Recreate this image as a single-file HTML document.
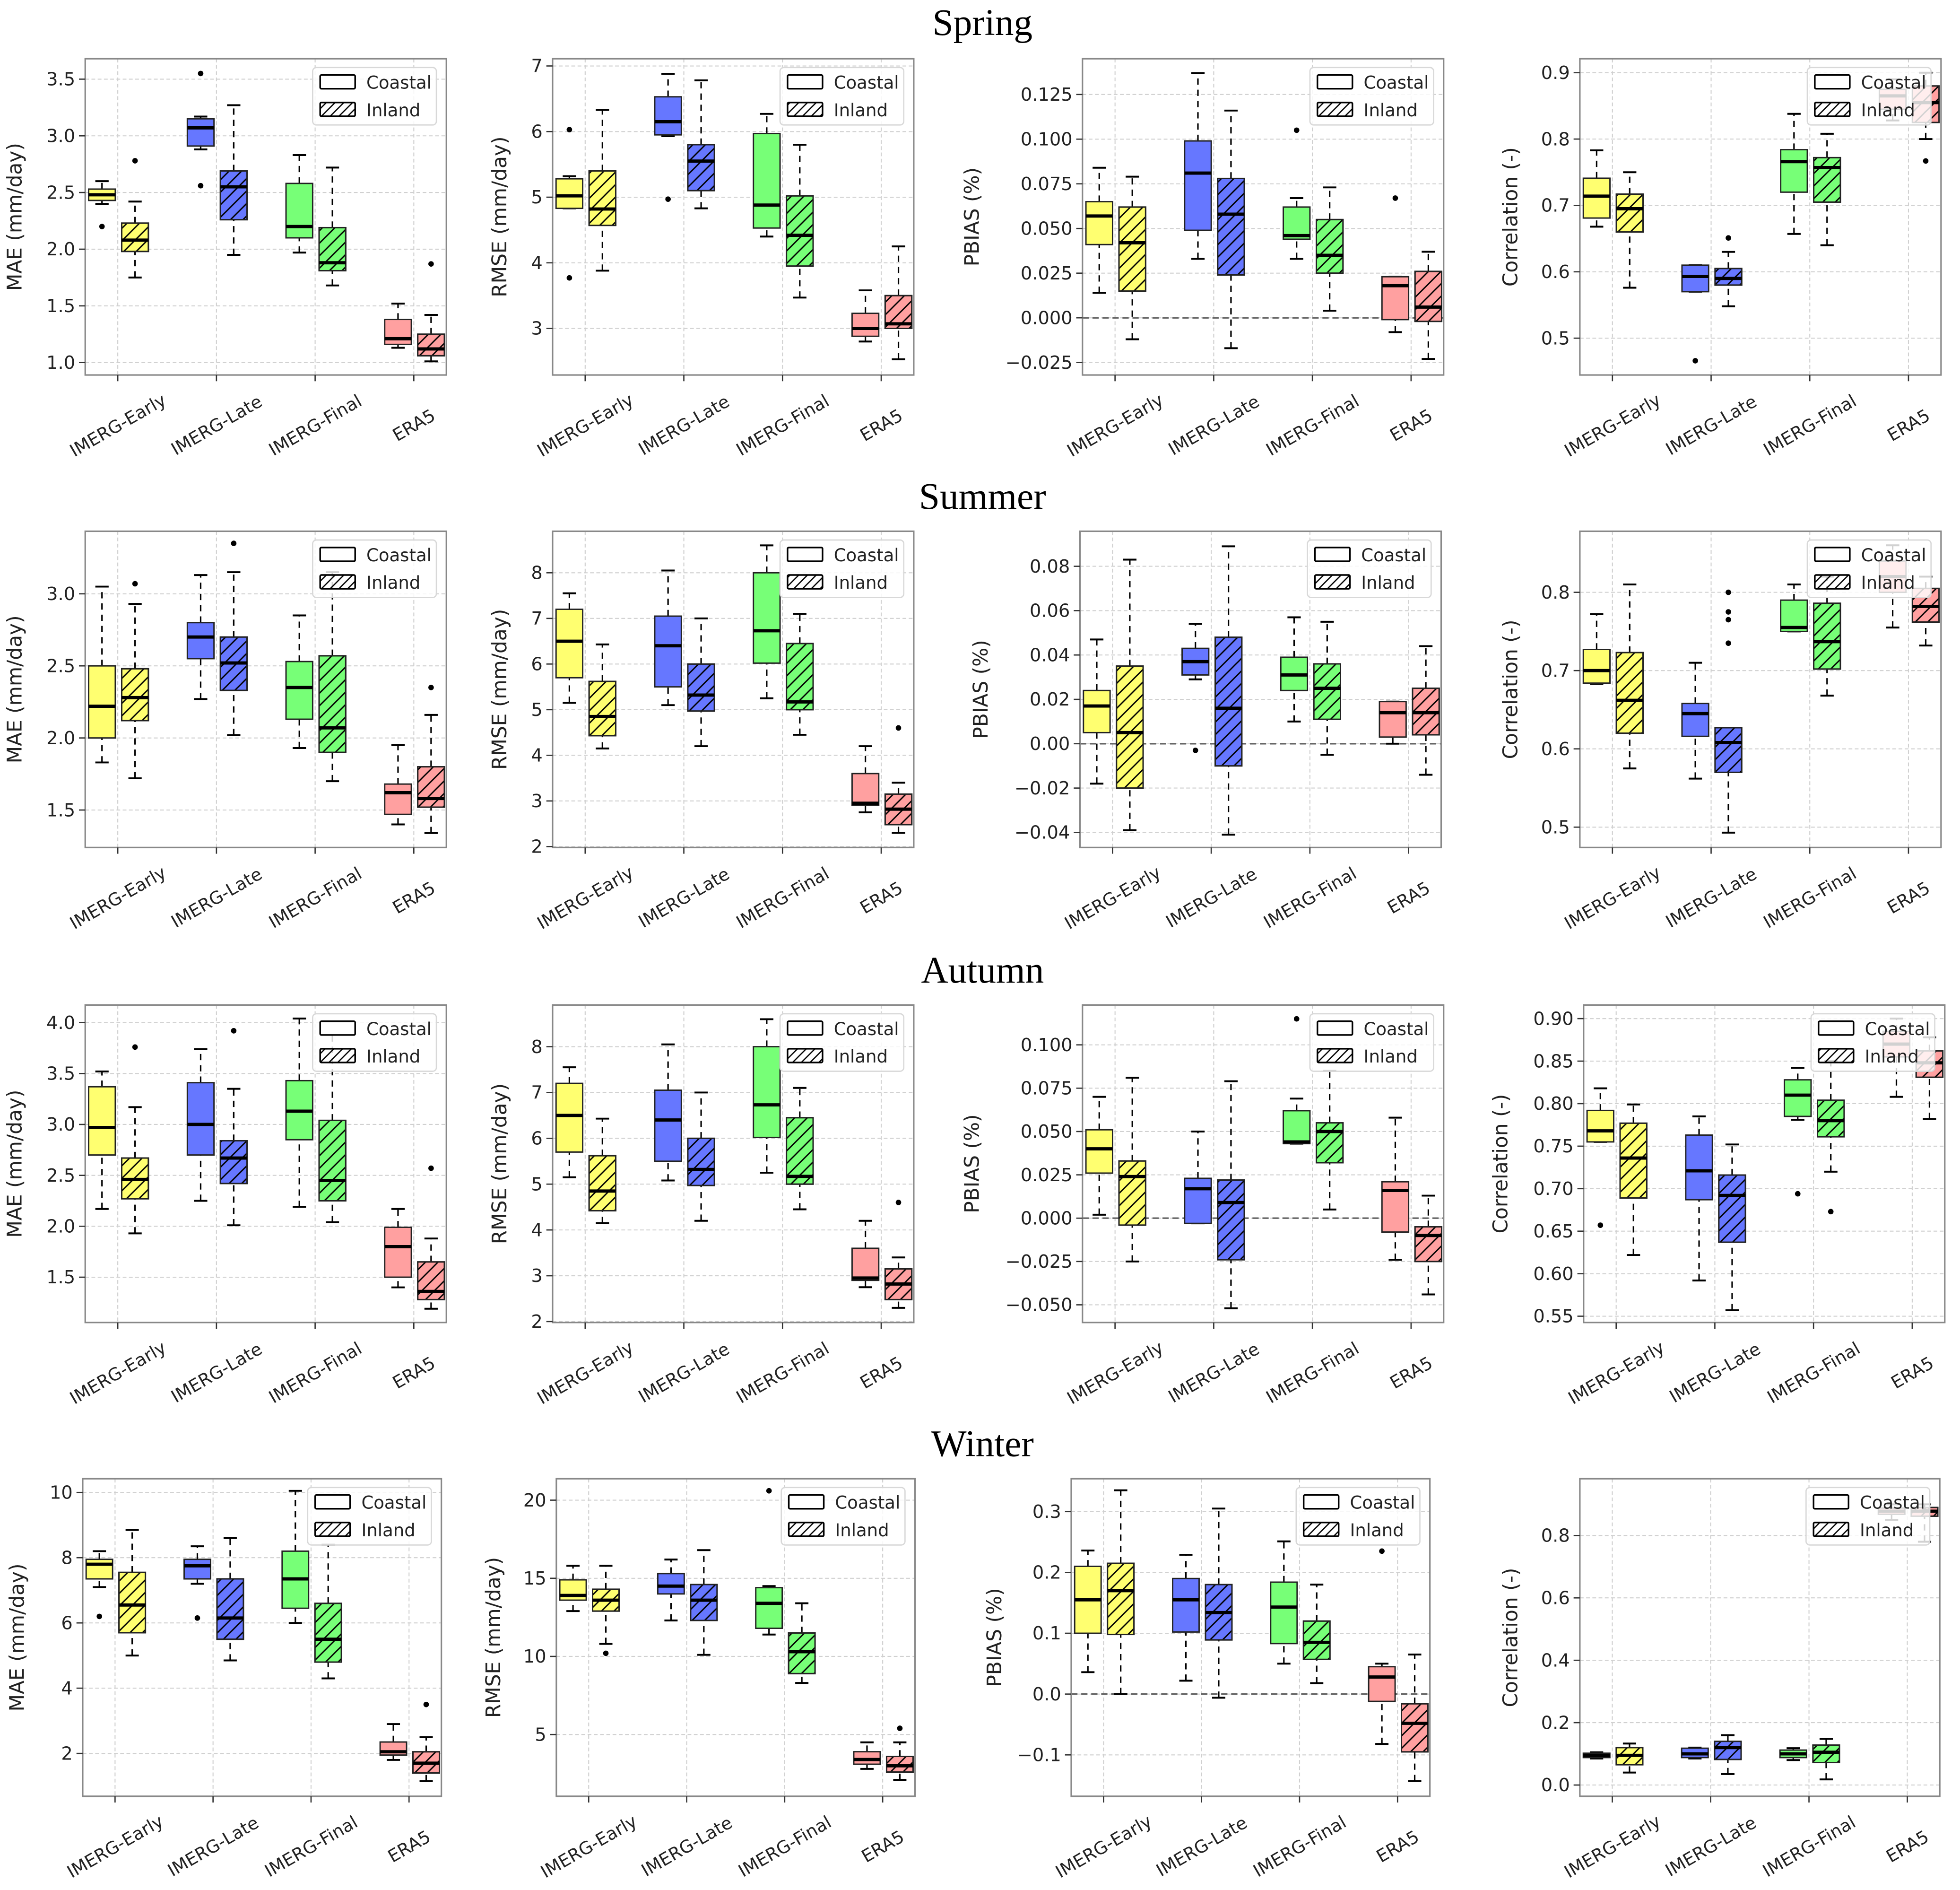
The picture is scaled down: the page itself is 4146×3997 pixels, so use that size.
<!DOCTYPE html>
<html><head><meta charset="utf-8"><title>Seasonal boxplots</title>
<style>html,body{margin:0;padding:0;background:#fff;}svg{display:block;}</style></head>
<body>
<svg id="fig" xmlns="http://www.w3.org/2000/svg" width="4146" height="3997" viewBox="0 0 1568 1512">
<defs>
<pattern id="hatch" patternUnits="userSpaceOnUse" width="10" height="10">
<path d="M-2,2 L2,-2 M0,10 L10,0 M8,12 L12,8" stroke="#000" stroke-width="1.1"/>
</pattern>
<pattern id="hatchL" patternUnits="userSpaceOnUse" width="7" height="7">
<path d="M-2,2 L2,-2 M0,7 L7,0 M5,9 L9,5" stroke="#000" stroke-width="1"/>
</pattern>
</defs>
</svg>
<script>
// ---------- data ----------
const categories = ["IMERG-Early","IMERG-Late","IMERG-Final","ERA5"];
const seasons = ["Spring","Summer","Autumn","Winter"];
const metricLabels = ["MAE (mm/day)","RMSE (mm/day)","PBIAS (%)","Correlation (-)"];
// each box: [whisker low, q1, median, q3, whisker high]
const springMaeCoastal = [[2.40,2.43,2.48,2.53,2.60],[2.88,2.91,3.07,3.15,3.17],[1.97,2.10,2.20,2.58,2.83],[1.13,1.16,1.21,1.38,1.52]];
const springMaeInland  = [[1.75,1.98,2.08,2.23,2.42],[1.95,2.26,2.55,2.69,3.27],[1.68,1.81,1.88,2.19,2.72],[1.01,1.06,1.12,1.25,1.42]];
const springMaeCoastalOut = [[2.20],[3.55,2.56],[],[]];
const springMaeInlandOut  = [[2.78],[],[],[1.87]];
const springRmseCoastal = [[4.83,4.83,5.02,5.28,5.32],[5.93,5.95,6.15,6.53,6.88],[4.40,4.53,4.88,5.97,6.27],[2.80,2.88,3.00,3.23,3.58]];
const springRmseInland  = [[3.88,4.57,4.82,5.40,6.33],[4.83,5.10,5.55,5.80,6.78],[3.47,3.95,4.42,5.02,5.80],[2.53,3.00,3.07,3.50,4.25]];
const springRmseCoastalOut = [[6.03,3.77],[4.97],[],[]];
const springRmseInlandOut  = [[],[],[],[]];
const springPbiasCoastal = [[0.014,0.041,0.057,0.065,0.084],[0.033,0.049,0.081,0.099,0.137],[0.033,0.044,0.046,0.062,0.067],[-0.008,-0.001,0.018,0.023,0.023]];
const springPbiasInland  = [[-0.012,0.015,0.042,0.062,0.079],[-0.017,0.024,0.058,0.078,0.116],[0.004,0.025,0.035,0.055,0.073],[-0.023,-0.002,0.006,0.026,0.037]];
const springPbiasCoastalOut = [[],[],[0.105],[0.067]];
const springPbiasInlandOut  = [[],[],[],[]];
const springCorrCoastal = [[0.668,0.681,0.714,0.741,0.783],[0.570,0.570,0.593,0.610,0.610],[0.657,0.720,0.766,0.784,0.838],[0.828,0.845,0.865,0.875,0.890]];
const springCorrInland  = [[0.576,0.660,0.695,0.717,0.750],[0.548,0.580,0.590,0.605,0.630],[0.640,0.705,0.757,0.772,0.808],[0.800,0.825,0.855,0.880,0.900]];
const springCorrCoastalOut = [[],[0.466],[],[]];
const springCorrInlandOut  = [[],[0.651],[],[0.767]];

const summerMaeCoastal = [[1.83,2.00,2.22,2.50,3.05],[2.27,2.55,2.70,2.80,3.13],[1.93,2.13,2.35,2.53,2.85],[1.40,1.47,1.62,1.68,1.95]];
const summerMaeInland  = [[1.72,2.12,2.28,2.48,2.93],[2.02,2.33,2.52,2.70,3.15],[1.70,1.90,2.07,2.57,3.15],[1.34,1.52,1.58,1.80,2.16]];
const summerMaeCoastalOut = [[],[],[],[]];
const summerMaeInlandOut  = [[3.07],[3.35],[],[2.35]];
const summerRmseCoastal = [[5.15,5.70,6.50,7.20,7.55],[5.10,5.50,6.40,7.05,8.05],[5.25,6.02,6.73,8.00,8.60],[2.75,2.90,2.95,3.60,4.20]];
const summerRmseInland  = [[4.15,4.43,4.85,5.62,6.43],[4.20,4.97,5.32,6.00,7.00],[4.45,5.00,5.17,6.45,7.10],[2.30,2.48,2.82,3.15,3.40]];
const summerRmseCoastalOut = [[],[],[],[]];
const summerRmseInlandOut  = [[],[],[],[4.60]];
const summerPbiasCoastal = [[-0.018,0.005,0.017,0.024,0.047],[0.029,0.031,0.037,0.043,0.054],[0.010,0.024,0.031,0.039,0.057],[0.000,0.003,0.014,0.019,0.019]];
const summerPbiasInland  = [[-0.039,-0.020,0.005,0.035,0.083],[-0.041,-0.010,0.016,0.048,0.089],[-0.005,0.011,0.025,0.036,0.055],[-0.014,0.004,0.014,0.025,0.044]];
const summerPbiasCoastalOut = [[],[-0.003],[],[]];
const summerPbiasInlandOut  = [[],[],[],[]];
const summerCorrCoastal = [[0.683,0.684,0.700,0.727,0.772],[0.562,0.616,0.645,0.658,0.710],[0.750,0.750,0.755,0.790,0.810],[0.755,0.800,0.820,0.840,0.860]];
const summerCorrInland  = [[0.575,0.620,0.662,0.723,0.810],[0.493,0.570,0.608,0.627,0.627],[0.668,0.702,0.737,0.786,0.820],[0.732,0.762,0.782,0.805,0.820]];
const summerCorrCoastalOut = [[],[],[],[]];
const summerCorrInlandOut  = [[],[0.735,0.765,0.775,0.800],[],[]];

const autumnMaeCoastal = [[2.17,2.70,2.97,3.37,3.52],[2.25,2.70,3.00,3.41,3.74],[2.19,2.85,3.13,3.43,4.04],[1.40,1.50,1.80,1.99,2.17]];
const autumnMaeInland  = [[1.93,2.27,2.46,2.67,3.17],[2.01,2.42,2.67,2.84,3.35],[2.04,2.25,2.45,3.04,3.95],[1.19,1.28,1.36,1.65,1.88]];
const autumnMaeCoastalOut = [[],[],[],[]];
const autumnMaeInlandOut  = [[3.76],[3.92],[],[2.57]];
const autumnRmseCoastal = [[5.15,5.70,6.50,7.20,7.55],[5.08,5.50,6.40,7.05,8.05],[5.25,6.02,6.73,8.00,8.60],[2.75,2.90,2.95,3.60,4.20]];
const autumnRmseInland  = [[4.15,4.42,4.85,5.62,6.43],[4.20,4.97,5.32,6.00,7.00],[4.45,5.00,5.17,6.45,7.10],[2.30,2.48,2.82,3.15,3.40]];
const autumnRmseCoastalOut = [[],[],[],[]];
const autumnRmseInlandOut  = [[],[],[],[4.60]];
const autumnPbiasCoastal = [[0.002,0.026,0.040,0.051,0.070],[-0.003,-0.003,0.017,0.023,0.050],[0.043,0.043,0.044,0.062,0.069],[-0.024,-0.008,0.016,0.021,0.058]];
const autumnPbiasInland  = [[-0.025,-0.004,0.024,0.033,0.081],[-0.052,-0.024,0.009,0.022,0.079],[0.005,0.032,0.050,0.055,0.085],[-0.044,-0.025,-0.010,-0.005,0.013]];
const autumnPbiasCoastalOut = [[],[],[0.115],[]];
const autumnPbiasInlandOut  = [[],[],[],[]];
const autumnCorrCoastal = [[0.755,0.755,0.768,0.792,0.818],[0.592,0.687,0.721,0.763,0.785],[0.781,0.785,0.810,0.828,0.842],[0.808,0.855,0.870,0.885,0.900]];
const autumnCorrInland  = [[0.622,0.689,0.736,0.777,0.799],[0.557,0.637,0.692,0.716,0.752],[0.720,0.761,0.780,0.804,0.850],[0.782,0.831,0.848,0.862,0.878]];
const autumnCorrCoastalOut = [[0.657],[],[0.694],[]];
const autumnCorrInlandOut  = [[],[],[0.673],[]];

const winterMaeCoastal = [[7.10,7.35,7.80,7.95,8.20],[7.20,7.35,7.75,7.95,8.35],[6.00,6.45,7.35,8.20,10.05],[1.80,1.95,2.05,2.35,2.90]];
const winterMaeInland  = [[5.00,5.70,6.55,7.55,8.85],[4.85,5.50,6.15,7.35,8.60],[4.30,4.80,5.50,6.60,8.40],[1.15,1.40,1.70,2.05,2.50]];
const winterMaeCoastalOut = [[6.20],[6.15],[],[]];
const winterMaeInlandOut  = [[],[],[],[3.50]];
const winterRmseCoastal = [[12.9,13.6,13.9,14.9,15.8],[12.3,14.0,14.5,15.3,16.2],[11.4,11.8,13.4,14.4,14.5],[2.8,3.1,3.4,3.9,4.5]];
const winterRmseInland  = [[10.8,12.9,13.6,14.3,15.8],[10.1,12.3,13.6,14.6,16.8],[8.3,8.9,10.3,11.5,13.4],[2.1,2.6,3.0,3.6,4.5]];
const winterRmseCoastalOut = [[],[],[20.6],[]];
const winterRmseInlandOut  = [[10.2],[],[],[5.4]];
const winterPbiasCoastal = [[0.036,0.100,0.155,0.210,0.236],[0.022,0.102,0.155,0.190,0.229],[0.050,0.083,0.143,0.184,0.251],[-0.082,-0.012,0.028,0.045,0.050]];
const winterPbiasInland  = [[0.000,0.098,0.170,0.215,0.335],[-0.006,0.089,0.134,0.180,0.305],[0.018,0.057,0.085,0.120,0.180],[-0.143,-0.095,-0.048,-0.016,0.065]];
const winterPbiasCoastalOut = [[],[],[],[0.235]];
const winterPbiasInlandOut  = [[],[],[],[]];
const winterCorrCoastal = [[0.085,0.088,0.095,0.102,0.105],[0.085,0.088,0.100,0.118,0.120],[0.080,0.088,0.100,0.112,0.118],[0.850,0.868,0.878,0.888,0.900]];
const winterCorrInland  = [[0.040,0.065,0.095,0.120,0.133],[0.035,0.082,0.120,0.140,0.160],[0.018,0.072,0.105,0.128,0.148],[0.780,0.862,0.878,0.890,0.900]];
const winterCorrCoastalOut = [[],[],[],[]];
const winterCorrInlandOut  = [[],[],[],[0.880]];

// tick label arrays
const ticksMae1=[1.0,1.5,2.0,2.5,3.0,3.5], ticksRmse1=[3,4,5,6,7], ticksPbias1=[-0.025,0,0.025,0.05,0.075,0.1,0.125], ticksCorr1=[0.5,0.6,0.7,0.8,0.9];
const ticksMae2=[1.5,2.0,2.5,3.0], ticksRmse2=[2,3,4,5,6,7,8], ticksPbias2=[-0.04,-0.02,0,0.02,0.04,0.06,0.08], ticksCorr2=[0.5,0.6,0.7,0.8];
const ticksMae3=[1.5,2.0,2.5,3.0,3.5,4.0], ticksRmse3=[2,3,4,5,6,7,8], ticksPbias3=[-0.05,-0.025,0,0.025,0.05,0.075,0.1], ticksCorr3=[0.55,0.6,0.65,0.7,0.75,0.8,0.85,0.9];
const ticksMae4=[2,4,6,8,10], ticksRmse4=[5,10,15,20], ticksPbias4=[-0.1,0,0.1,0.2,0.3], ticksCorr4=[0,0.2,0.4,0.6,0.8];

// ---------- layout (not data) ----------
const colors = ["#ffff70","#6677ff","#77ff77","#ffa0a0"];
const rowY = [[47,300],[425,678],[804,1058],[1183,1437]];
const titleY = [28,407,786,1165];
const colX = [
  [[68,357],[442,731],[866,1155],[1264,1553]],
  [[68,357],[442,731],[864,1153],[1264,1553]],
  [[68,357],[442,731],[866,1155],[1267,1556]],
  [[66,353],[445,732],[857,1144],[1264,1552]]
];
const labelOff = [[51,37,83,50],[51,37,74,50],[51,37,83,61],[47,45,56,50]];
const panels = [
 {r:0,c:0,co:springMaeCoastal,in:springMaeInland,coO:springMaeCoastalOut,inO:springMaeInlandOut,yl:[0.89,3.68],tk:ticksMae1,d:1},
 {r:0,c:1,co:springRmseCoastal,in:springRmseInland,coO:springRmseCoastalOut,inO:springRmseInlandOut,yl:[2.29,7.11],tk:ticksRmse1,d:0},
 {r:0,c:2,co:springPbiasCoastal,in:springPbiasInland,coO:springPbiasCoastalOut,inO:springPbiasInlandOut,yl:[-0.032,0.145],tk:ticksPbias1,d:3,z:1},
 {r:0,c:3,co:springCorrCoastal,in:springCorrInland,coO:springCorrCoastalOut,inO:springCorrInlandOut,yl:[0.4445,0.921],tk:ticksCorr1,d:1},
 {r:1,c:0,co:summerMaeCoastal,in:summerMaeInland,coO:summerMaeCoastalOut,inO:summerMaeInlandOut,yl:[1.24,3.434],tk:ticksMae2,d:1},
 {r:1,c:1,co:summerRmseCoastal,in:summerRmseInland,coO:summerRmseCoastalOut,inO:summerRmseInlandOut,yl:[1.98,8.91],tk:ticksRmse2,d:0},
 {r:1,c:2,co:summerPbiasCoastal,in:summerPbiasInland,coO:summerPbiasCoastalOut,inO:summerPbiasInlandOut,yl:[-0.0468,0.0958],tk:ticksPbias2,d:2,z:1},
 {r:1,c:3,co:summerCorrCoastal,in:summerCorrInland,coO:summerCorrCoastalOut,inO:summerCorrInlandOut,yl:[0.474,0.878],tk:ticksCorr2,d:1},
 {r:2,c:0,co:autumnMaeCoastal,in:autumnMaeInland,coO:autumnMaeCoastalOut,inO:autumnMaeInlandOut,yl:[1.055,4.173],tk:ticksMae3,d:1},
 {r:2,c:1,co:autumnRmseCoastal,in:autumnRmseInland,coO:autumnRmseCoastalOut,inO:autumnRmseInlandOut,yl:[1.98,8.91],tk:ticksRmse3,d:0},
 {r:2,c:2,co:autumnPbiasCoastal,in:autumnPbiasInland,coO:autumnPbiasCoastalOut,inO:autumnPbiasInlandOut,yl:[-0.0602,0.123],tk:ticksPbias3,d:3,z:1},
 {r:2,c:3,co:autumnCorrCoastal,in:autumnCorrInland,coO:autumnCorrCoastalOut,inO:autumnCorrInlandOut,yl:[0.5426,0.916],tk:ticksCorr3,d:2},
 {r:3,c:0,co:winterMaeCoastal,in:winterMaeInland,coO:winterMaeCoastalOut,inO:winterMaeInlandOut,yl:[0.687,10.42],tk:ticksMae4,d:0},
 {r:3,c:1,co:winterRmseCoastal,in:winterRmseInland,coO:winterRmseCoastalOut,inO:winterRmseInlandOut,yl:[1.05,21.37],tk:ticksRmse4,d:0},
 {r:3,c:2,co:winterPbiasCoastal,in:winterPbiasInland,coO:winterPbiasCoastalOut,inO:winterPbiasInlandOut,yl:[-0.168,0.354],tk:ticksPbias4,d:1,z:1},
 {r:3,c:3,co:winterCorrCoastal,in:winterCorrInland,coO:winterCorrCoastalOut,inO:winterCorrInlandOut,yl:[-0.036,0.982],tk:ticksCorr4,d:1}
];
const names=["mae","rmse","pbias","correlation"];
const svg=document.getElementById('fig');
const NS='http://www.w3.org/2000/svg';
function mk(tag,attrs,parent){const e=document.createElementNS(NS,tag);for(const k in attrs)e.setAttribute(k,attrs[k]);(parent||svg).appendChild(e);return e;}
const FONT='"DejaVu Sans","Liberation Sans",sans-serif';

seasons.forEach((s,i)=>{
  const t=mk('text',{x:786,y:titleY[i],'text-anchor':'middle','font-family':'"Liberation Serif",serif','font-size':30,fill:'#000'});
  
  
  t.textContent=s;
});

panels.forEach((p,pi)=>{
  const [x0,x1]=colX[p.r][p.c], [y0,y1]=rowY[p.r];
  const g=mk('g',{});
  
  
  const xs=v=>x0+(v+0.33)/3.66*(x1-x0);
  const ys=v=>y1-(v-p.yl[0])/(p.yl[1]-p.yl[0])*(y1-y0);
  const cid='clip'+pi;
  const cp=mk('clipPath',{id:cid},g); mk('rect',{x:x0,y:y0,width:x1-x0,height:y1-y0},cp);
  p.tk.forEach(v=>{const l=mk('line',{x1:x0,x2:x1,y1:ys(v),y2:ys(v),stroke:'#d0d0d0','stroke-width':0.8,'stroke-dasharray':'3,2'},g);
    });
  categories.forEach((c,i)=>{const l=mk('line',{x1:xs(i),x2:xs(i),y1:y0,y2:y1,stroke:'#d0d0d0','stroke-width':0.8,'stroke-dasharray':'3,2'},g);
    });
  if(p.z){const l=mk('line',{x1:x0,x2:x1,y1:ys(0),y2:ys(0),stroke:'#666','stroke-width':1.3,'stroke-dasharray':'5,3'},g);
    }
  const pg=mk('g',{'clip-path':'url(#'+cid+')'},g);
  const bw=0.27;
  [[p.co,p.coO,-0.16,false,'coastal'],[p.in,p.inO,0.175,true,'inland']].forEach(([data,outs,off,hat,nm])=>{
    data.forEach((b,i)=>{
      const cx=xs(i+off), hw=(xs(bw)-xs(0))/2;
      const bg=mk('g',{},pg);
      
      
      const capw=hw*0.5;
      mk('line',{x1:cx,x2:cx,y1:ys(b[0]),y2:ys(b[1]),stroke:'#000','stroke-width':1.2,'stroke-dasharray':'5,4'},bg);
      mk('line',{x1:cx,x2:cx,y1:ys(b[3]),y2:ys(b[4]),stroke:'#000','stroke-width':1.2,'stroke-dasharray':'5,4'},bg);
      mk('line',{x1:cx-capw,x2:cx+capw,y1:ys(b[0]),y2:ys(b[0]),stroke:'#000','stroke-width':1.5},bg);
      mk('line',{x1:cx-capw,x2:cx+capw,y1:ys(b[4]),y2:ys(b[4]),stroke:'#000','stroke-width':1.5},bg);
      mk('rect',{x:cx-hw,y:ys(b[3]),width:2*hw,height:Math.max(0.5,ys(b[1])-ys(b[3])),fill:colors[i],stroke:'#222','stroke-width':1.1},bg);
      if(hat) mk('rect',{x:cx-hw,y:ys(b[3]),width:2*hw,height:Math.max(0.5,ys(b[1])-ys(b[3])),fill:'url(#hatch)',stroke:'#222','stroke-width':1.1},bg);
      mk('line',{x1:cx-hw,x2:cx+hw,y1:ys(b[2]),y2:ys(b[2]),stroke:'#000','stroke-width':2.6},bg);
      outs[i].forEach(v=>{const f=mk('circle',{cx:cx,cy:ys(v),r:2.2,fill:'#000'},pg);
        });
    });
  });
  const lx=x1-107, ly=y0+7;
  const lg=mk('g',{},g);
  
  
  mk('rect',{x:lx,y:ly,width:99,height:46,rx:3,fill:'#fff','fill-opacity':0.82,stroke:'#d8d8d8','stroke-width':1},lg);
  [['Coastal',false],['Inland',true]].forEach(([t,h],k)=>{
    const e=mk('g',{},lg);
    
    
    mk('rect',{x:lx+6,y:ly+6+k*22,width:28,height:11,rx:1,fill:h?'url(#hatchL)':'#fff',stroke:'#000','stroke-width':1.3},e);
    const tx=mk('text',{x:lx+43,y:ly+17+k*22,'font-family':FONT,'font-size':14,fill:'#222'},e);tx.textContent=t;
  });
  const fr=mk('rect',{x:x0,y:y0,width:x1-x0,height:y1-y0,fill:'none',stroke:'#888','stroke-width':1.2},g);
  
  p.tk.forEach(v=>{
    mk('line',{x1:x0-5,x2:x0,y1:ys(v),y2:ys(v),stroke:'#333','stroke-width':1},g);
    const t=mk('text',{x:x0-8,y:ys(v)+5,'text-anchor':'end','font-family':FONT,'font-size':14.5,fill:'#222'},g);
    
    t.textContent=(v<0?'\u2212':'')+Math.abs(v).toFixed(p.d);
  });
  categories.forEach((c,i)=>{
    mk('line',{x1:xs(i),x2:xs(i),y1:y1,y2:y1+5,stroke:'#333','stroke-width':1},g);
    const t=mk('text',{x:xs(i),y:y1+45,'text-anchor':'middle','font-family':FONT,'font-size':14,fill:'#222',transform:'rotate(-30 '+xs(i)+' '+(y1+40)+')'},g);
    
    t.textContent=c;
  });
  const lxp=x0-labelOff[p.r][p.c], lyp=(y0+y1)/2;
  const yl=mk('text',{x:lxp,y:lyp,'text-anchor':'middle','font-family':FONT,'font-size':16,fill:'#222',transform:'rotate(-90 '+lxp+' '+lyp+')'},g);
  
  yl.textContent=metricLabels[p.c];
});
</script>
</body></html>
